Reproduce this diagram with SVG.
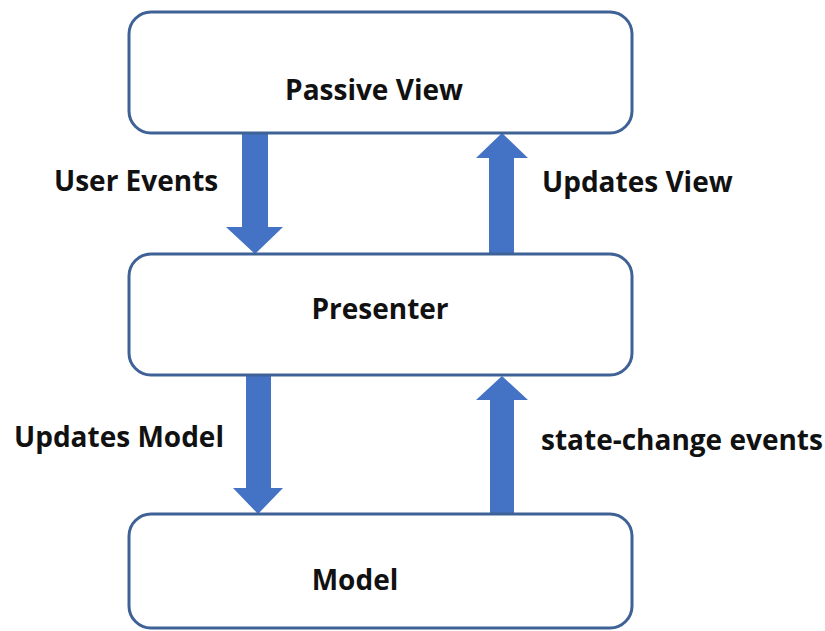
<svg xmlns="http://www.w3.org/2000/svg" width="825" height="631" viewBox="0 0 825 631">
  <style>
    .box { fill: #ffffff; stroke: #3f6296; stroke-width: 3; }
    .title { font-family: "Open Sans", "Noto Sans", sans-serif; font-weight: bold; font-size: 28px; fill: #111111; text-anchor: middle; }
    .label { font-family: "Open Sans", "Noto Sans", sans-serif; font-weight: bold; font-size: 28px; fill: #111111; }
    .arrow { fill: #4472c4; }
  </style>
  <rect width="825" height="631" fill="#ffffff"/>

  <g id="connectors">
    <!-- Passive View -> Presenter -->
    <polygon class="arrow" points="242,134 268,134 268,227 283,227 255,254 226,227 242,227"/>
    <!-- Presenter -> Passive View -->
    <polygon class="arrow" points="489,254 514,254 514,158 528,158 502,133 476,158 489,158"/>
    <!-- Presenter -> Model -->
    <polygon class="arrow" points="246,375 271,375 271,488 283,488 258,514 233,488 246,488"/>
    <!-- Model -> Presenter -->
    <polygon class="arrow" points="490,514 514,514 514,400 528,400 502,376 476,400 490,400"/>
    <text class="label" x="54" y="191">User Events</text>
    <text class="label" x="542" y="192">Updates View</text>
    <text class="label" x="14" y="447">Updates Model</text>
    <text class="label" x="541" y="450">state-change events</text>
  </g>

  <g id="passive-view">
    <rect class="box" x="129" y="12" width="503" height="121" rx="22"/>
    <text class="title" x="374" y="100">Passive View</text>
  </g>

  <g id="presenter">
    <rect class="box" x="129" y="254" width="503" height="121" rx="22"/>
    <text class="title" x="380" y="319">Presenter</text>
  </g>

  <g id="model">
    <rect class="box" x="129" y="514" width="503" height="114" rx="22"/>
    <text class="title" x="355" y="590">Model</text>
  </g>
</svg>
